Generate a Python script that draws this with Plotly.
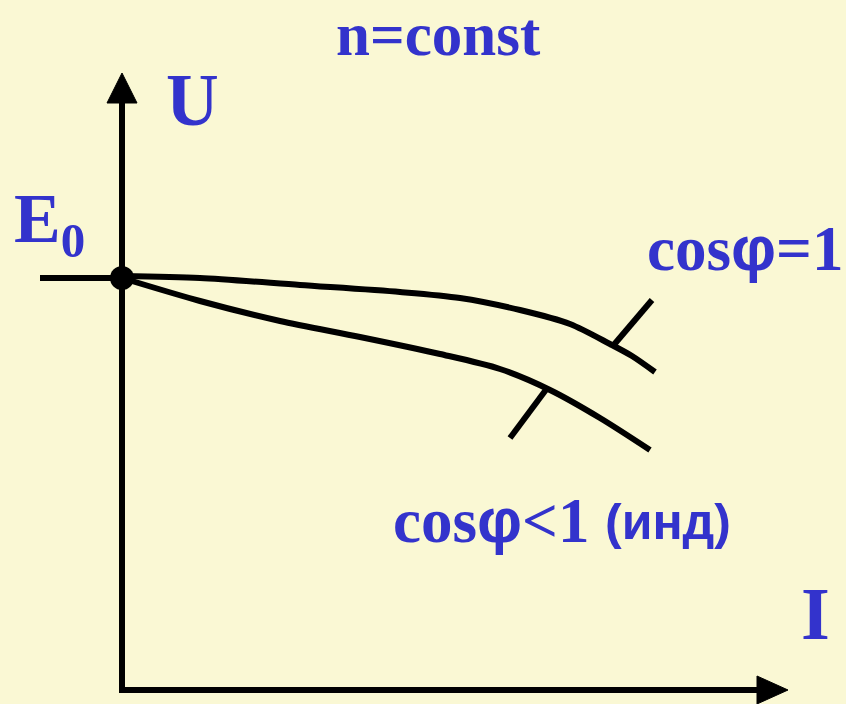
import plotly.graph_objects as go

# ---- data (diagram coordinates; y grows downward) ----
curve1_x = [122, 200, 300, 400, 460, 520, 570, 610, 632, 655]
curve1_y = [276, 278, 285, 292, 298, 310, 324, 344, 356, 372]
curve2_x = [122, 200, 280, 360, 440, 500, 550, 600, 650]
curve2_y = [278, 301, 321, 337, 354, 369, 390, 418, 450]
tick1_x = [612, 652]
tick1_y = [347, 300]
tick2_x = [548, 510]
tick2_y = [387, 438]
e0_line_x = [40, 122]
e0_line_y = [278, 278]
yaxis_x = [122, 122]
yaxis_y = [692, 100]
xaxis_x = [119, 760]
xaxis_y = [690, 690]
yarrow_x = [107, 137, 122, 107]
yarrow_y = [103, 103, 73, 103]
xarrow_x = [757, 757, 788, 757]
xarrow_y = [676, 704, 690, 676]
e0_point = (122, 278)

BG = "#FAF8D4"
BLUE = "#3333CC"
LW = 6

fig = go.Figure()

def line(x, y, w=LW):
    fig.add_trace(go.Scatter(x=x, y=y, mode="lines",
                             line=dict(color="black", width=w, shape="spline", smoothing=0.8),
                             hoverinfo="skip", showlegend=False))

for xs, ys in [(yaxis_x, yaxis_y), (xaxis_x, xaxis_y), (e0_line_x, e0_line_y),
               (curve1_x, curve1_y), (curve2_x, curve2_y),
               (tick1_x, tick1_y), (tick2_x, tick2_y)]:
    line(xs, ys)

for xs, ys in [(yarrow_x, yarrow_y), (xarrow_x, xarrow_y)]:
    fig.add_trace(go.Scatter(x=xs, y=ys, mode="lines", fill="toself",
                             fillcolor="black", line=dict(color="black", width=1),
                             hoverinfo="skip", showlegend=False))

fig.add_trace(go.Scatter(x=[e0_point[0]], y=[e0_point[1]], mode="markers",
                         marker=dict(color="black", size=24),
                         hoverinfo="skip", showlegend=False))

SERIF = "Liberation Serif"
PHI = "<span style='font-family:Liberation Sans'>φ</span>"

def label(text, x, y, size, family=SERIF, xanchor="center"):
    fig.add_annotation(x=x, y=y, xref="x", yref="y", text=text, showarrow=False,
                       xanchor=xanchor, yanchor="middle",
                       font=dict(family=family, size=size, color=BLUE, weight="bold"))

label("n=const", 438, 34, 61)
label("U", 192, 100, 73)
label("E<sub>0</sub>", 12, 224, 70, xanchor="left")
label("cos" + PHI + "=1", 845, 248, 63, xanchor="right")
label("cos" + PHI + "<1", 391, 520, 63, xanchor="left")
label("(инд)", 603, 522, 50, family="Liberation Sans", xanchor="left")
label("I", 815, 614, 74)

fig.update_layout(
    width=846, height=704, margin=dict(l=0, r=0, t=0, b=0),
    paper_bgcolor=BG, plot_bgcolor=BG,
    xaxis=dict(range=[0, 846], visible=False, fixedrange=True),
    yaxis=dict(range=[704, 0], visible=False, fixedrange=True),
    showlegend=False,
)
fig.write_html("out.html", config={"displayModeBar": False},
               post_script="document.body.style.margin='0';document.body.style.overflow='hidden';")
